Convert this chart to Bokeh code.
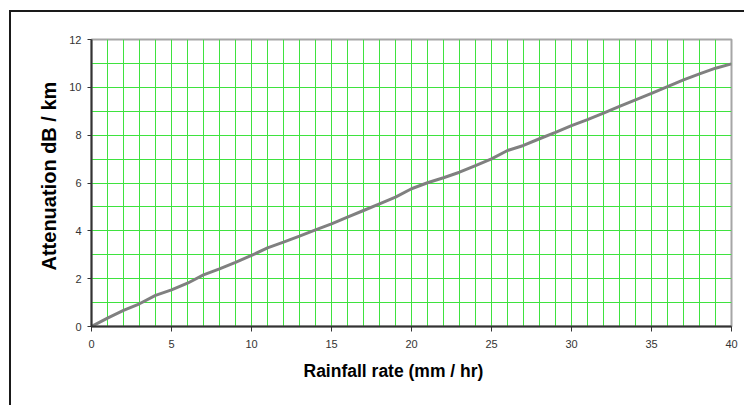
from bokeh.plotting import figure
from bokeh.models import Range1d, SingleIntervalTicker, FixedTicker, Title, InlineStyleSheet
from bokeh.embed import file_html
from bokeh.resources import INLINE

rain = [0, 1, 2, 3, 4, 5, 6, 7, 8, 9, 10, 11, 12, 13, 14, 15, 16, 17, 18, 19, 20,
        21, 22, 23, 24, 25, 26, 27, 28, 29, 30, 31, 32, 33, 34, 35, 36, 37, 38, 39, 40]
atten = [0.0, 0.35, 0.67, 0.95, 1.30, 1.53, 1.81, 2.16, 2.41, 2.68, 2.97, 3.29, 3.53,
         3.78, 4.04, 4.29, 4.57, 4.85, 5.13, 5.41, 5.76, 6.01, 6.22, 6.45, 6.73, 7.01,
         7.36, 7.57, 7.85, 8.12, 8.40, 8.65, 8.92, 9.20, 9.48, 9.75, 10.03, 10.31,
         10.56, 10.80, 10.98]
x_ticks = [0, 5, 10, 15, 20, 25, 30, 35, 40]
y_ticks = [0, 2, 4, 6, 8, 10, 12]
x_title = "Rainfall rate (mm / hr)"
y_title = "Attenuation dB / km"

FONT = "Liberation Sans"

p = figure(width=744, height=405, output_backend="svg", toolbar_location=None,
           x_range=Range1d(0, 40), y_range=Range1d(0, 12),
           min_border_left=91, min_border_right=13, min_border_top=39, min_border_bottom=79,
           background_fill_color="white", border_fill_color="white")

# outer chart-area border (left and top edges visible)
p.stylesheets = [InlineStyleSheet(css="""
:host::after {
  content: "";
  position: absolute;
  left: 9px; top: 10px; right: 0px; bottom: 0px;
  border-left: 2px solid #1a1a1a;
  border-top: 2px solid #1a1a1a;
  pointer-events: none;
}
""")]

p.outline_line_color = "#a6a6a6"
p.outline_line_width = 2

p.xgrid.ticker = SingleIntervalTicker(interval=1)
p.ygrid.ticker = SingleIntervalTicker(interval=1)
for g in (p.xgrid, p.ygrid):
    g.grid_line_color = "#3fe23f"
    g.grid_line_width = 1
    g.grid_line_alpha = 1.0

p.line(rain, atten, line_color="#808080", line_width=3)

p.xaxis.ticker = FixedTicker(ticks=x_ticks)
p.yaxis.ticker = FixedTicker(ticks=y_ticks)
for ax in (p.xaxis, p.yaxis):
    ax.axis_line_color = "#333333"
    ax.axis_line_width = 2
    ax.major_tick_line_color = "#333333"
    ax.major_tick_line_width = 1
    ax.major_tick_in = 0
    ax.minor_tick_line_color = None
    ax.major_label_text_font = FONT
    ax.major_label_text_font_size = "11px"
    ax.major_label_text_color = "#333333"

p.xaxis.major_tick_out = 5
p.xaxis.major_label_standoff = 8
p.yaxis.major_tick_out = 4
p.yaxis.major_label_standoff = 6

p.add_layout(Title(text=x_title, align="left", offset=212, standoff=17,
                   text_font=FONT, text_font_size="17.5px", text_font_style="bold",
                   text_color="black"), "below")
p.add_layout(Title(text=y_title, align="left", offset=56, standoff=14,
                   text_font=FONT, text_font_size="20px", text_font_style="bold",
                   text_color="black"), "left")

open("out.html", "w").write(file_html(p, INLINE))
